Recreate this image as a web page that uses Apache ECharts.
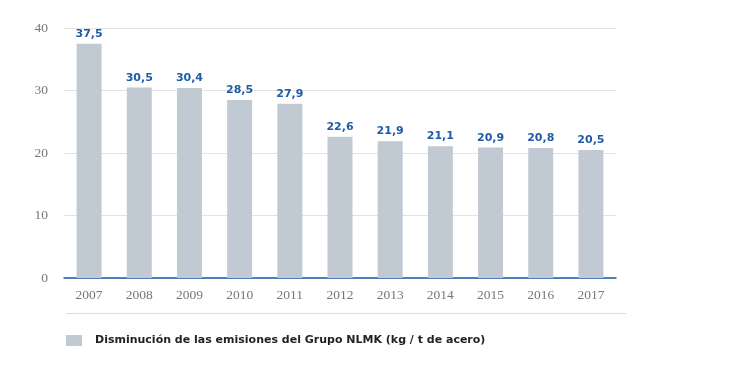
<!DOCTYPE html>
<html><head><meta charset="utf-8">
<script src="https://cdn.jsdelivr.net/npm/echarts@6/dist/echarts.min.js"></script>
<style>html,body{margin:0;padding:0;background:#fff}#c{width:738px;height:371px}</style>
</head><body><div id="c"></div>
<script>
const categories = ['2007','2008','2009','2010','2011','2012','2013','2014','2015','2016','2017'];
const emissions = [37.5, 30.5, 30.4, 28.5, 27.9, 22.6, 21.9, 21.1, 20.9, 20.8, 20.5];
const seriesName = 'Disminución de las emisiones del Grupo NLMK (kg / t de acero)';
const yTicks = [0, 10, 20, 30, 40];

const chart = echarts.init(document.getElementById('c'), null, {renderer:'canvas'});
chart.setOption({
  animation: false,
  grid: {left: 64, right: 122, top: 28, bottom: 93, containLabel: false},
  xAxis: {
    type: 'category', data: categories,
    axisLine: {lineStyle: {color: '#1f5ba6', width: 1.5}},
    axisTick: {show: false},
    axisLabel: {color: '#777', fontFamily: 'Liberation Serif', fontSize: 13.5, margin: 10}
  },
  yAxis: {
    type: 'value', min: yTicks[0], max: yTicks[yTicks.length-1], interval: 10,
    axisLine: {show: false}, axisTick: {show: false},
    axisLabel: {color: '#777', fontFamily: 'Liberation Serif', fontSize: 13.5, margin: 16},
    splitLine: {lineStyle: {color: '#e3e3e3', width: 1}}
  },
  legend: {
    left: 66, top: 335, padding: 0, itemWidth: 16, itemHeight: 11, itemGap: 10,
    icon: 'rect',
    textStyle: {color: '#222', fontFamily: 'DejaVu Sans', fontWeight: 'bold', fontSize: 11, padding: [0,0,0,8]},
    data: [seriesName]
  },
  graphic: [{
    type: 'line', shape: {x1: 66, y1: 313.5, x2: 626, y2: 313.5},
    style: {stroke: '#dcdcdc', lineWidth: 1}
  }],
  series: [{
    name: seriesName, type: 'bar', data: emissions, barWidth: 25,
    itemStyle: {color: '#c1c9d3'},
    label: {
      show: true, position: 'top', distance: 4,
      color: '#1f5ba6', fontFamily: 'DejaVu Sans', fontWeight: 'bold', fontSize: 11,
      formatter: p => String(p.value).replace('.', ',')
    }
  }]
});
</script></body></html>
